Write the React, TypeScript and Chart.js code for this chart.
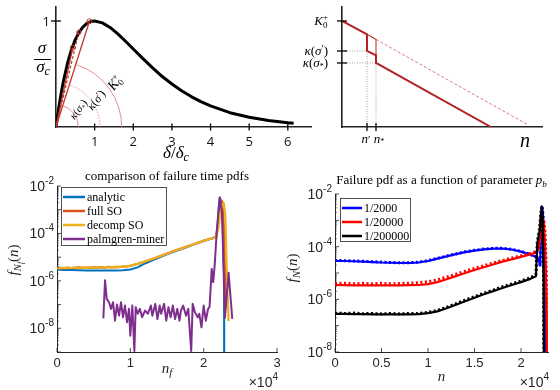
import React, { useEffect, useRef } from 'react';
import { Chart, registerables } from 'chart.js';
Chart.register(...registerables);

const W = 560, H = 390;
const SERIF = '"Liberation Serif", "DejaVu Serif", serif';
const SANS = '"Liberation Sans", Arial, sans-serif';
const OPEN = '"Open Sans", "Liberation Sans", sans-serif';
const fnt = (size: number, fam: string, italic = false) => `${italic ? 'italic ' : ''}${size}px ${fam}`;

// ---------------- top-left: cohesive law ----------------
const deltaRatio = [0, 0.05, 0.1, 0.15, 0.2, 0.3, 0.4, 0.5, 0.6, 0.7, 0.8, 0.9, 1.0, 1.2, 1.4, 1.6, 1.8, 2.0, 2.25, 2.5, 2.75, 3.0, 3.25, 3.5, 3.75, 4.0, 4.5, 5.0, 5.5, 6.0, 6.15];
const sigmaRatio = [0, 0.129, 0.246, 0.351, 0.445, 0.604, 0.729, 0.824, 0.895, 0.945, 0.977, 0.995, 1.0, 0.982, 0.939, 0.878, 0.809, 0.736, 0.645, 0.558, 0.476, 0.406, 0.342, 0.287, 0.239, 0.199, 0.135, 0.092, 0.061, 0.040, 0.035];
const secantDelta = [0.865, 0.59, 0.434];
const secantSigma = [0.997, 0.893, 0.748];
const arcRadii = [1.70, 1.14, 0.58];
const tlXTicks = [1, 2, 3, 4, 5, 6];
const tlYTicks = [1];

// ---------------- top-right: stiffness degradation ----------------
const nDegraded = [0, 0.25, 0.25, 0.34, 0.34, 1.49];
const kDegraded = [1, 0.875, 0.717, 0.675, 0.604, 0];
const nUpper = [0.25, 0.34, 0.34];
const kUpper = [0.875, 0.826, 0.675];
const nIntact = [0.34, 1.86];
const kIntact = [0.826, 0.02];
const kTickVals = [1, 0.717, 0.604];
const nTickVals = [0.25, 0.34];

// ---------------- bottom-left: failure time pdfs ----------------
const analyticN = [0, 1000, 2000, 3000, 4000, 5000, 6000, 7000, 8000, 9000, 10000, 11000, 12000, 13000, 14000, 15000, 16000, 17000, 18000, 19000, 20000, 21000, 21700, 21900, 22050, 22200, 22400, 22600, 22780, 22800];
const analyticF = [3.0e-6, 2.9e-6, 2.85e-6, 2.8e-6, 2.75e-6, 2.75e-6, 2.75e-6, 2.75e-6, 2.75e-6, 2.8e-6, 3.0e-6, 3.7e-6, 5.4e-6, 7.4e-6, 9.8e-6, 1.3e-5, 1.7e-5, 2.2e-5, 2.85e-5, 3.7e-5, 4.75e-5, 5.9e-5, 6.9e-5, 2.0e-4, 1.2e-3, 3.3e-3, 1.8e-3, 2.0e-4, 2.0e-6, 1e-11];
const fullSON = [0, 500, 1000, 1500, 2000, 2500, 3000, 3500, 4000, 4500, 5000, 5500, 6000, 6500, 7000, 7500, 8000, 8500, 9000, 9500, 10000, 10500, 11000, 12000, 13000, 14000, 15000, 16000, 17000, 18000, 19000, 20000, 21000, 21700, 21950, 22150, 22350, 22550, 22750, 22900, 23050, 23100];
const fullSOF = [3.4e-6, 3.5e-6, 3.3e-6, 3.6e-6, 3.4e-6, 3.5e-6, 3.7e-6, 3.5e-6, 3.6e-6, 3.5e-6, 3.7e-6, 3.6e-6, 3.8e-6, 3.6e-6, 3.9e-6, 3.7e-6, 3.9e-6, 3.8e-6, 4.0e-6, 4.1e-6, 4.3e-6, 4.8e-6, 5.2e-6, 6.6e-6, 8.4e-6, 1.1e-5, 1.42e-5, 1.85e-5, 2.35e-5, 3.0e-5, 3.85e-5, 4.95e-5, 6.1e-5, 7.2e-5, 2.5e-4, 1.2e-3, 2.6e-3, 2.2e-3, 2.0e-4, 3.0e-6, 1.5e-7, 8e-8];
const decompSON = [0, 500, 1000, 1500, 2000, 2500, 3000, 3500, 4000, 4500, 5000, 5500, 6000, 6500, 7000, 7500, 8000, 8500, 9000, 9500, 10000, 10500, 11000, 12000, 13000, 14000, 15000, 16000, 17000, 18000, 19000, 20000, 21000, 21700, 22000, 22250, 22500, 22750, 22950, 23100, 23250, 23400];
const decompSOF = [3.3e-6, 3.4e-6, 3.6e-6, 3.4e-6, 3.5e-6, 3.7e-6, 3.4e-6, 3.6e-6, 3.5e-6, 3.7e-6, 3.5e-6, 3.8e-6, 3.6e-6, 3.8e-6, 3.7e-6, 3.9e-6, 3.7e-6, 4.0e-6, 3.9e-6, 4.2e-6, 4.4e-6, 4.7e-6, 5.3e-6, 6.5e-6, 8.3e-6, 1.08e-5, 1.4e-5, 1.82e-5, 2.3e-5, 2.95e-5, 3.8e-5, 4.9e-5, 6.0e-5, 7.0e-5, 1.5e-4, 7e-4, 1.6e-3, 1.9e-3, 6e-4, 1e-5, 3e-7, 2e-8];
const minerN = [6320, 6550, 6780, 7090, 7370, 7640, 7910, 8180, 8460, 8730, 9000, 9270, 9550, 9820, 10000, 10270, 10550, 10730, 11000, 11300, 11600, 12000, 12400, 12800, 13000, 13400, 13700, 14000, 14200, 14600, 14900, 15200, 15500, 15800, 16100, 16400, 16700, 16900, 17200, 17600, 17900, 18300, 18500, 18800, 19200, 19400, 19700, 20000, 20300, 20600, 20800, 21100, 21300, 21500, 21800, 22200, 22500, 22900, 23400, 23900];
const minerF = [2.63e-8, 1.05e-6, 1.74e-7, 1.26e-7, 6.6e-8, 1.26e-7, 2.1e-8, 1.0e-7, 3.4e-8, 1.26e-7, 2.9e-8, 9.1e-8, 1.8e-8, 6.6e-8, 4.9e-9, 9.1e-8, 1.1e-9, 7.8e-8, 4.1e-8, 6.6e-8, 2.9e-8, 5.6e-8, 4.1e-8, 9.1e-8, 3.4e-8, 1.07e-7, 2.45e-8, 9.1e-8, 4.1e-8, 1.07e-7, 2.1e-8, 7.8e-8, 2.9e-8, 9.1e-8, 2.45e-8, 6.6e-8, 2.1e-8, 5.6e-8, 9.1e-8, 3.4e-8, 6.6e-8, 1.1e-9, 1.07e-7, 4.8e-8, 2.9e-8, 4.1e-8, 1.1e-8, 9.1e-8, 2.1e-8, 6.6e-8, 7.8e-8, 3.2e-6, 8.9e-7, 4.5e-6, 1.4e-4, 3.3e-3, 7.1e-4, 2.8e-8, 2.2e-6, 2.5e-8];
const blXTicks = [0, 10000, 20000, 30000];
const blXLabels = ['0', '1', '2', '3'];

// ---------------- bottom-right: pdf vs p_b ----------------
const brN = [0, 1000, 2000, 3000, 4000, 5000, 6000, 7000, 8000, 9000, 10000, 11000, 12000, 13000, 14000, 15000, 16000, 17000, 18000, 19000, 20000, 21000];
const blueLineF = [2.9e-5, 2.85e-5, 2.8e-5, 2.7e-5, 2.6e-5, 2.5e-5, 2.45e-5, 2.4e-5, 2.4e-5, 2.5e-5, 2.85e-5, 3.5e-5, 4.3e-5, 5.2e-5, 6.2e-5, 7.1e-5, 7.9e-5, 8.4e-5, 8.5e-5, 7.8e-5, 6.5e-5, 5.0e-5];
const blueDotF = [3.0e-5, 2.95e-5, 2.85e-5, 2.8e-5, 2.7e-5, 2.6e-5, 2.5e-5, 2.45e-5, 2.45e-5, 2.6e-5, 2.95e-5, 3.6e-5, 4.4e-5, 5.3e-5, 6.4e-5, 7.3e-5, 8.1e-5, 8.6e-5, 8.7e-5, 8.0e-5, 6.6e-5, 5.1e-5];
const blueTailN = [21500, 21900, 22050, 22200, 22300, 22420, 22550, 22620];
const blueTailF = [4.2e-5, 3.4e-5, 2.0e-5, 1.0e-3, 3.0e-3, 8e-4, 2e-6, 1e-10];
const redLineF = [3.5e-6, 3.45e-6, 3.4e-6, 3.4e-6, 3.4e-6, 3.4e-6, 3.4e-6, 3.4e-6, 3.45e-6, 3.5e-6, 3.8e-6, 4.5e-6, 5.8e-6, 7.6e-6, 1.0e-5, 1.3e-5, 1.65e-5, 2.1e-5, 2.7e-5, 3.3e-5, 4.1e-5, 5.1e-5];
const redDotF = [4.0e-6, 4.1e-6, 3.9e-6, 4.0e-6, 3.9e-6, 4.1e-6, 3.9e-6, 4.0e-6, 4.1e-6, 4.3e-6, 4.7e-6, 5.5e-6, 7.0e-6, 9.0e-6, 1.18e-5, 1.5e-5, 1.9e-5, 2.4e-5, 3.0e-5, 3.7e-5, 4.5e-5, 5.6e-5];
const redTailN = [21600, 21900, 22000, 22150, 22300, 22450, 22600, 22750, 22850];
const redTailF = [5.9e-5, 8.5e-5, 1.35e-4, 4e-4, 1.0e-3, 8e-4, 1e-4, 1e-6, 1e-10];
const redDotTailF = [6.5e-5, 9.5e-5, 1.5e-4, 4.5e-4, 1.2e-3, 1.1e-3, 3e-4, 5e-6, 1e-10];
const blackLineF = [2.8e-7, 2.8e-7, 2.75e-7, 2.75e-7, 2.7e-7, 2.7e-7, 2.7e-7, 2.7e-7, 2.7e-7, 2.75e-7, 3.0e-7, 3.5e-7, 4.6e-7, 6.2e-7, 8.5e-7, 1.15e-6, 1.55e-6, 2.05e-6, 2.7e-6, 3.5e-6, 4.5e-6, 6.0e-6];
const blackDotF = [3.0e-7, 2.9e-7, 3.0e-7, 2.85e-7, 2.9e-7, 2.8e-7, 2.9e-7, 2.8e-7, 2.9e-7, 2.9e-7, 3.2e-7, 3.8e-7, 5.0e-7, 6.8e-7, 9.4e-7, 1.27e-6, 1.7e-6, 2.25e-6, 3.0e-6, 3.85e-6, 5.0e-6, 6.6e-6];
const blackTailN = [21600, 21750, 22000, 22120, 22220, 22320, 22420, 22480];
const blackTailF = [7.5e-6, 1.3e-4, 4e-4, 1.5e-3, 3.4e-3, 1.0e-3, 5e-6, 1e-10];
const blackDotTailF = [8.5e-6, 1.5e-4, 5e-4, 1.6e-3, 3.0e-3, 1.2e-3, 1e-5, 1e-10];
const brXTicks = [0, 5000, 10000, 15000, 20000];
const brXLabels = ['0', '0.5', '1', '1.5', '2'];
const brLegend = ['1/2000', '1/20000', '1/200000'];
const blLegend = ['analytic', 'full SO', 'decomp SO', 'palmgren-miner'];

// ---------------- helpers ----------------
type Seg = { t: string; f: string; dy?: number; ov?: boolean };
function drawSegs(ctx: CanvasRenderingContext2D, segs: Seg[], x: number, y: number, align: string, color = '#000') {
  ctx.save();
  ctx.fillStyle = color;
  ctx.textAlign = 'left';
  ctx.textBaseline = 'alphabetic';
  let cx = 0, prev = 0;
  const pos: number[] = [];
  for (const s of segs) {
    ctx.font = s.f;
    const w = ctx.measureText(s.t).width;
    const start = s.ov ? prev : cx;
    pos.push(start);
    if (!s.ov) prev = cx;
    cx = Math.max(cx, start + w);
  }
  const x0 = align === 'left' ? x : align === 'center' ? x - cx / 2 : x - cx;
  segs.forEach((s, i) => { ctx.font = s.f; ctx.fillText(s.t, x0 + pos[i], y + (s.dy || 0)); });
  ctx.restore();
}
function seg(ctx: CanvasRenderingContext2D, x1: number, y1: number, x2: number, y2: number, color = '#000', w = 1, dash: number[] = []) {
  ctx.save();
  ctx.strokeStyle = color; ctx.lineWidth = w; ctx.setLineDash(dash);
  ctx.beginPath(); ctx.moveTo(x1, y1); ctx.lineTo(x2, y2); ctx.stroke();
  ctx.restore();
}
const pts = (xs: number[], ys: number[]) => xs.map((x, i) => ({ x, y: ys[i] }));
const ds = (xs: number[], ys: number[], color: string, width: number, dash: number[] = [], extra: any = {}) => ({
  data: pts(xs, ys), borderColor: color, backgroundColor: color, borderWidth: width, borderDash: dash,
  borderJoinStyle: 'round', pointRadius: 0, showLine: true, fill: false, tension: 0, ...extra,
});
type Area = { l: number; t: number; r: number; b: number };
function baseOptions(area: Area, xmin: number, xmax: number, ymin: number, ymax: number, ylog: boolean, bw: number, bc: string) {
  return {
    responsive: false, animation: false, devicePixelRatio: 1, events: [],
    layout: { padding: { left: area.l, top: area.t, right: W - area.r, bottom: H - area.b } },
    plugins: { legend: { display: false }, tooltip: { enabled: false }, title: { display: false } },
    scales: {
      x: { type: 'linear', min: xmin, max: xmax, grid: { display: false, drawTicks: false }, ticks: { display: false },
        border: { display: true, width: bw, color: bc },
        afterFit: (s: any) => { s.height = 0; s.paddingLeft = 0; s.paddingRight = 0; } },
      y: { type: ylog ? 'logarithmic' : 'linear', min: ymin, max: ymax, grid: { display: false, drawTicks: false }, ticks: { display: false },
        border: { display: true, width: bw, color: bc },
        afterFit: (s: any) => { s.width = 0; s.paddingTop = 0; s.paddingBottom = 0; } },
    },
  };
}

const RED = '#c0392b';
const ARC = '#e57373';

// ---------------- chart configs ----------------
function topLeftConfig() {
  const area = { l: 56, t: 7, r: 311, b: 127 };
  const datasets = [
    ds([0, secantDelta[0]], [0, secantSigma[0]], RED, 1.3, [], { pointRadius: [0, 2.5], pointStyle: 'circle', pointBorderColor: RED, pointBackgroundColor: 'rgba(0,0,0,0)', pointBorderWidth: 1 }),
    ds([0, secantDelta[1]], [0, secantSigma[1]], RED, 1.2, [3, 2], { pointRadius: [0, 2.2], pointBorderColor: RED, pointBackgroundColor: 'rgba(0,0,0,0)', pointBorderWidth: 1 }),
    ds([0, secantDelta[2]], [0, secantSigma[2]], RED, 1.3, [], { pointRadius: [0, 2.5], pointBorderColor: RED, pointBackgroundColor: 'rgba(0,0,0,0)', pointBorderWidth: 1 }),
    ds(deltaRatio, sigmaRatio, '#000', 3),
  ];
  const decor = {
    id: 'tlDecor',
    afterDraw(chart: any) {
      const ctx = chart.ctx, xs = chart.scales.x, ys = chart.scales.y;
      const x0 = xs.getPixelForValue(0), y0 = ys.getPixelForValue(0);
      const ax = xs.getPixelForValue(secantDelta[0]) - x0, ay = y0 - ys.getPixelForValue(secantSigma[0]);
      const theta = Math.atan2(ay, ax) - 0.02;
      const dashes = [[], [1.5, 1.5], []];
      arcRadii.forEach((R, i) => {
        const r = xs.getPixelForValue(R) - x0;
        ctx.save(); ctx.strokeStyle = ARC; ctx.lineWidth = 0.8; ctx.setLineDash(dashes[i]);
        ctx.beginPath(); ctx.arc(x0, y0, r, -theta, 0); ctx.stroke(); ctx.restore();
      });
      const labs: { c: [number, number]; s: Seg[] }[] = [
        { c: [115, 83], s: [{ t: 'K', f: fnt(14, SERIF, true) }, { t: '0', f: fnt(9, SERIF), dy: 3 }, { t: '+', f: fnt(9, SERIF), dy: -5, ov: true }] },
        { c: [96, 100], s: [{ t: 'κ', f: fnt(12, SERIF, true) }, { t: '(', f: fnt(12, SERIF) }, { t: 'σ', f: fnt(12, SERIF, true) }, { t: '′', f: fnt(10, SERIF), dy: -2 }, { t: ')', f: fnt(12, SERIF) }] },
        { c: [78, 109], s: [{ t: 'κ', f: fnt(11, SERIF, true) }, { t: '(', f: fnt(11, SERIF) }, { t: 'σ', f: fnt(11, SERIF, true) }, { t: '*', f: fnt(7, SERIF), dy: 2 }, { t: ')', f: fnt(11, SERIF) }] },
      ];
      labs.forEach((L) => {
        ctx.save(); ctx.translate(L.c[0], L.c[1]); ctx.rotate(-52 * Math.PI / 180);
        drawSegs(ctx, L.s, 0, 4, 'center'); ctx.restore();
      });
      tlXTicks.forEach((v) => {
        const px = xs.getPixelForValue(v);
        seg(ctx, px, y0 - 3.5, px, y0 + 3.5, '#000', 1.3);
        drawSegs(ctx, [{ t: String(v), f: fnt(13, OPEN) }], px, 146, 'center', '#111');
      });
      tlYTicks.forEach((v) => {
        const py = ys.getPixelForValue(v);
        seg(ctx, x0 - 5, py, x0 + 5, py, '#000', 1.3);
        drawSegs(ctx, [{ t: String(v), f: fnt(13, OPEN) }], x0 - 6, py + 5, 'right', '#111');
      });
      drawSegs(ctx, [{ t: 'δ', f: fnt(17, SERIF, true) }, { t: '/', f: fnt(17, SERIF) }, { t: 'δ', f: fnt(17, SERIF, true) }, { t: 'c', f: fnt(12, SERIF, true), dy: 3 }], 176, 158, 'center');
      drawSegs(ctx, [{ t: 'σ', f: fnt(17, SERIF, true) }], 42, 53, 'center');
      seg(ctx, 34, 59.5, 51, 59.5, '#000', 1);
      drawSegs(ctx, [{ t: 'σ', f: fnt(17, SERIF, true) }, { t: 'c', f: fnt(12, SERIF, true), dy: 3 }], 43, 72, 'center');
    },
  };
  return { type: 'scatter', data: { datasets }, options: baseOptions(area, 0, 6.6, 0, 1.132, false, 1.6, '#222'), plugins: [decor] };
}

function topRightConfig() {
  const area = { l: 342, t: 7, r: 542, b: 127 };
  const GUIDE = '#8a8a8a';
  const datasets = [
    ds(nDegraded, kDegraded, '#b22222', 2, [], { borderJoinStyle: 'miter' }),
    ds(nUpper, kUpper, '#c0392b', 1.1, [], { borderJoinStyle: 'miter' }),
    ds(nIntact, kIntact, '#d46a6a', 0.9, [3, 2]),
    ds([0, nTickVals[0]], [kTickVals[1], kTickVals[1]], GUIDE, 0.8, [1, 1.5]),
    ds([0, nTickVals[1]], [kTickVals[2], kTickVals[2]], GUIDE, 0.8, [1, 1.5]),
    ds([nTickVals[0], nTickVals[0]], [0, kTickVals[1]], GUIDE, 0.8, [1, 1.5]),
    ds([nTickVals[1], nTickVals[1]], [0, kTickVals[2]], GUIDE, 0.8, [1, 1.5]),
  ];
  const decor = {
    id: 'trDecor',
    afterDraw(chart: any) {
      const ctx = chart.ctx, xs = chart.scales.x, ys = chart.scales.y;
      const x0 = xs.getPixelForValue(0), y0 = ys.getPixelForValue(0);
      kTickVals.forEach((v) => { const py = ys.getPixelForValue(v); seg(ctx, x0 - 5, py, x0 + 5, py, '#000', 1.3); });
      nTickVals.forEach((v) => { const px = xs.getPixelForValue(v); seg(ctx, px, y0 - 4, px, y0 + 4, '#000', 1.3); });
      const rx = x0 - 14;
      drawSegs(ctx, [{ t: 'K', f: fnt(13, SERIF, true) }, { t: '0', f: fnt(9, SERIF), dy: 3 }, { t: '+', f: fnt(9, SERIF), dy: -5, ov: true }], rx, ys.getPixelForValue(kTickVals[0]) + 4, 'right');
      drawSegs(ctx, [{ t: 'κ', f: fnt(13, SERIF, true) }, { t: '(', f: fnt(13, SERIF) }, { t: 'σ', f: fnt(13, SERIF, true) }, { t: '′', f: fnt(10, SERIF), dy: -3 }, { t: ')', f: fnt(13, SERIF) }], rx, ys.getPixelForValue(kTickVals[1]) + 4, 'right');
      drawSegs(ctx, [{ t: 'κ', f: fnt(13, SERIF, true) }, { t: '(', f: fnt(13, SERIF) }, { t: 'σ', f: fnt(13, SERIF, true) }, { t: '*', f: fnt(8, SERIF), dy: 2 }, { t: ')', f: fnt(13, SERIF) }], rx, ys.getPixelForValue(kTickVals[2]) + 4, 'right');
      drawSegs(ctx, [{ t: 'n', f: fnt(13, SERIF, true) }, { t: '′', f: fnt(11, SERIF) }], xs.getPixelForValue(nTickVals[0]) - 1, 143, 'center');
      drawSegs(ctx, [{ t: 'n', f: fnt(13, SERIF, true) }, { t: '*', f: fnt(8, SERIF), dy: 1 }], xs.getPixelForValue(nTickVals[1]) + 3, 143, 'center');
      drawSegs(ctx, [{ t: 'n', f: fnt(20, SERIF, true) }], 525, 147, 'center');
    },
  };
  return { type: 'scatter', data: { datasets }, options: baseOptions(area, 0, 2, 0, 1.132, false, 1.6, '#222'), plugins: [decor] };
}

function logDecor(id: string, cfg: any) {
  return {
    id,
    afterDraw(chart: any) {
      const ctx = chart.ctx, xs = chart.scales.x, ys = chart.scales.y;
      const { left, right, bottom } = chart.chartArea;
      for (let e = cfg.eMin; e <= cfg.eMax; e++) {
        const py = ys.getPixelForValue(Math.pow(10, e));
        seg(ctx, left, py, left + 4, py, '#262626', 0.8);
        if (e < cfg.eMax) {
          for (let m = 2; m <= 9; m++) {
            const q = ys.getPixelForValue(m * Math.pow(10, e));
            seg(ctx, left, q, left + 2, q, '#262626', 0.6);
          }
        }
        if (cfg.labeled.includes(e)) {
          drawSegs(ctx, [{ t: '10', f: fnt(cfg.tickFont + 1, SANS) }, { t: '-' + String(-e), f: fnt(cfg.tickFont - 3, SANS), dy: -7 }], left - 3, py + 5, 'right', '#262626');
        }
      }
      cfg.xTicks.forEach((v: number, i: number) => {
        const px = xs.getPixelForValue(v);
        seg(ctx, px, bottom, px, bottom - 4, '#262626', 0.8);
        drawSegs(ctx, [{ t: cfg.xLabels[i], f: fnt(cfg.tickFont, SANS) }], px, bottom + 15, 'center', '#262626');
      });
      drawSegs(ctx, [{ t: '×10', f: fnt(cfg.tickFont + 1, SANS) }, { t: '4', f: fnt(cfg.tickFont - 3, SANS), dy: -7 }], right + 1, 387, 'right', '#262626');
      drawSegs(ctx, cfg.xLabel, (left + right) / 2, cfg.xLabelY, 'center', '#262626');
      ctx.save(); ctx.translate(cfg.yLabelPos[0], cfg.yLabelPos[1]); ctx.rotate(-Math.PI / 2);
      drawSegs(ctx, cfg.yLabel, 0, 0, 'center', '#262626'); ctx.restore();
      drawSegs(ctx, cfg.title, (left + right) / 2, cfg.titleY, 'center', '#000');
      const b = cfg.legendBox;
      ctx.save(); ctx.fillStyle = '#fff'; ctx.fillRect(b[0], b[1], b[2] - b[0], b[3] - b[1]);
      ctx.strokeStyle = '#262626'; ctx.lineWidth = 0.8; ctx.strokeRect(b[0] + 0.5, b[1] + 0.5, b[2] - b[0] - 1, b[3] - b[1] - 1); ctx.restore();
      cfg.legend.forEach((name: string, i: number) => {
        const y = cfg.legendY[i];
        seg(ctx, cfg.legendLine[0], y, cfg.legendLine[1], y, cfg.legendColors[i], 2.5);
        drawSegs(ctx, [{ t: name, f: fnt(cfg.legendFont, SERIF) }], cfg.legendLine[1] + 2, y + 4, 'left', '#000');
      });
    },
  };
}

function bottomLeftConfig() {
  const area = { l: 57, t: 186, r: 277, b: 352 };
  const BLUE = '#0072BD', ORANGE = '#D95319', YELLOW = '#EDB120', PURPLE = '#7E2F8E';
  const datasets = [
    ds(minerN, minerF, PURPLE, 2),
    ds(decompSON, decompSOF, YELLOW, 2.2),
    ds(fullSON, fullSOF, ORANGE, 2.2),
    ds(analyticN, analyticF, BLUE, 2),
  ];
  const decor = logDecor('blDecor', {
    eMin: -9, eMax: -2, labeled: [-2, -4, -6, -8], xTicks: blXTicks, xLabels: blXLabels, tickFont: 13,
    xLabel: [{ t: 'n', f: fnt(15, SERIF, true) }, { t: 'f', f: fnt(11, SERIF, true), dy: 3 }], xLabelY: 373,
    yLabel: [{ t: 'f', f: fnt(15, SERIF, true) }, { t: 'N', f: fnt(11, SERIF, true), dy: 3 }, { t: 'f', f: fnt(8, SERIF, true), dy: 5 }, { t: '(', f: fnt(15, SERIF) }, { t: 'n', f: fnt(15, SERIF, true) }, { t: ')', f: fnt(15, SERIF) }],
    yLabelPos: [18, 260],
    title: [{ t: 'comparison of failure time pdfs', f: fnt(13, SERIF) }], titleY: 180,
    legendBox: [61, 187, 167, 246], legendLine: [63, 85], legendY: [197, 211, 225, 239], legendFont: 12,
    legend: blLegend, legendColors: [BLUE, ORANGE, YELLOW, PURPLE],
  });
  return { type: 'scatter', data: { datasets }, options: baseOptions(area, 0, 30000, 1e-9, 1e-2, true, 1, '#262626'), plugins: [decor] };
}

function bottomRightConfig() {
  const area = { l: 335, t: 194, r: 548, b: 352 };
  const DOT = [2, 2.5];
  const datasets = [
    ds([...brN, ...blackTailN], [...blackDotF, ...blackDotTailF], '#000', 3, DOT),
    ds([...brN, ...blackTailN], [...blackLineF, ...blackTailF], '#000', 2.2),
    ds([...brN, ...redTailN], [...redDotF, ...redDotTailF], '#ff0000', 3, DOT),
    ds([...brN, ...redTailN], [...redLineF, ...redTailF], '#ff0000', 2.2),
    ds([...brN, ...blueTailN], [...blueDotF, ...blueTailF], '#0000ff', 3, DOT),
    ds([...brN, ...blueTailN], [...blueLineF, ...blueTailF], '#0000ff', 2.2),
  ];
  const decor = logDecor('brDecor', {
    eMin: -8, eMax: -2, labeled: [-2, -4, -6, -8], xTicks: brXTicks, xLabels: brXLabels, tickFont: 13,
    xLabel: [{ t: 'n', f: fnt(15, SERIF, true) }], xLabelY: 381,
    yLabel: [{ t: 'f', f: fnt(15, SERIF, true) }, { t: 'N', f: fnt(11, SERIF, true), dy: 3 }, { t: '(', f: fnt(15, SERIF) }, { t: 'n', f: fnt(15, SERIF, true) }, { t: ')', f: fnt(15, SERIF) }],
    yLabelPos: [297, 268],
    title: [{ t: 'Failure pdf as a function of parameter ', f: fnt(13, SERIF) }, { t: 'p', f: fnt(13, SERIF, true) }, { t: 'b', f: fnt(9, SERIF, true), dy: 3 }], titleY: 184,
    legendBox: [340, 198, 411, 242], legendLine: [342, 362], legendY: [208, 222, 236], legendFont: 12,
    legend: brLegend, legendColors: ['#0000ff', '#ff0000', '#000'],
  });
  return { type: 'scatter', data: { datasets }, options: baseOptions(area, 0, 22900, 1e-8, 1e-2, true, 1, '#262626'), plugins: [decor] };
}

export default function App() {
  const r1 = useRef<HTMLCanvasElement>(null);
  const r2 = useRef<HTMLCanvasElement>(null);
  const r3 = useRef<HTMLCanvasElement>(null);
  const r4 = useRef<HTMLCanvasElement>(null);
  useEffect(() => {
    const made = [
      [r1, topLeftConfig()], [r2, topRightConfig()], [r3, bottomLeftConfig()], [r4, bottomRightConfig()],
    ].map(([ref, cfg]: any) => new Chart(ref.current, cfg));
    return () => made.forEach((c) => c.destroy());
  }, []);
  const cs: React.CSSProperties = { position: 'absolute', left: 0, top: 0, width: W, height: H };
  return (
    <div style={{ position: 'absolute', left: 0, top: 0, width: W, height: H, background: '#fff', overflow: 'hidden' }}>
      <canvas ref={r1} width={W} height={H} style={cs} />
      <canvas ref={r2} width={W} height={H} style={cs} />
      <canvas ref={r3} width={W} height={H} style={cs} />
      <canvas ref={r4} width={W} height={H} style={cs} />
    </div>
  );
}
